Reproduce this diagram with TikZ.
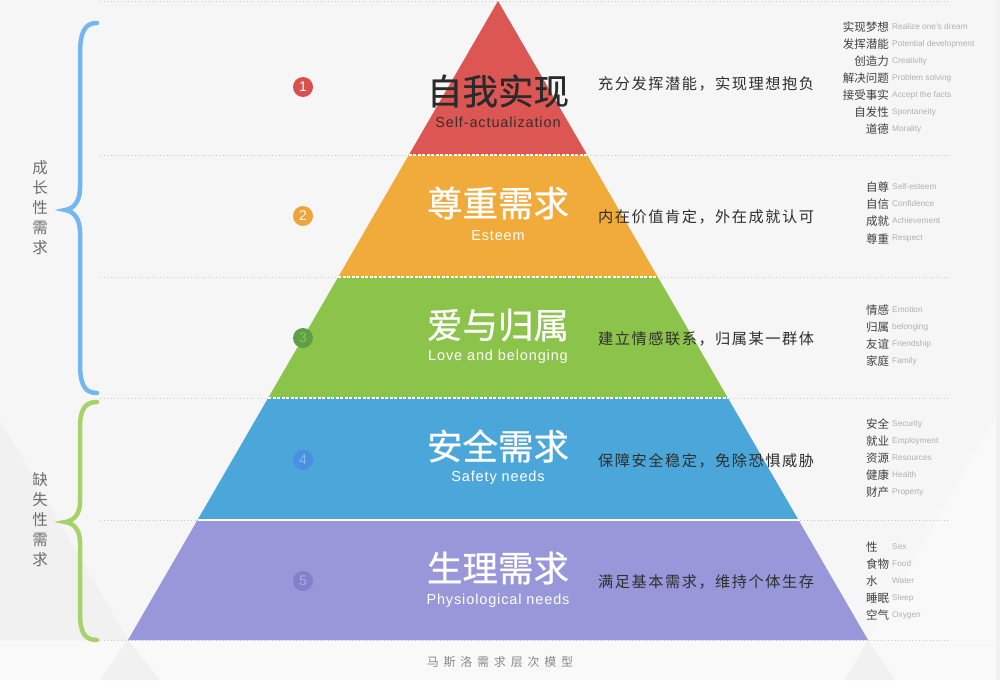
\documentclass[tikz,border=0pt]{standalone}
\usepackage{fontspec}
\setmainfont{Liberation Sans}
\newfontfamily\cjk{Noto Sans CJK SC}
\newfontfamily\cjktitle[FakeBold=0.6]{Noto Sans CJK SC}
\newfontfamily\cjkdesc[LetterSpace=10]{Noto Sans CJK SC}
\newfontfamily\cjkcap[LetterSpace=40]{Noto Sans CJK SC}
\newfontfamily\enspaced[LetterSpace=6]{Liberation Sans}
\usetikzlibrary{calc}
\definecolor{bgc}{HTML}{F6F6F6}
\definecolor{bgdark}{HTML}{F1F1F1}
\definecolor{bglight}{HTML}{F9F9F9}
\definecolor{cred}{HTML}{DC5753}
\definecolor{corange}{HTML}{F0AB3B}
\definecolor{cgreen}{HTML}{8CC34B}
\definecolor{cblue}{HTML}{4BA7D9}
\definecolor{cpurple}{HTML}{9797D9}
\definecolor{nred}{HTML}{D9504C}
\definecolor{norange}{HTML}{EFA43A}
\definecolor{ngreen}{HTML}{5E9E47}
\definecolor{nblue}{HTML}{4A90E2}
\definecolor{npurple}{HTML}{8282CC}
\definecolor{braceblue}{HTML}{74B7F0}
\definecolor{bracegreen}{HTML}{A8D169}
\definecolor{dotgray}{HTML}{C8C8C8}
\definecolor{dark}{HTML}{2A2A2A}
\definecolor{darken}{HTML}{3A2E2E}
\definecolor{desc}{HTML}{2E2E2E}
\definecolor{term}{HTML}{404040}
\definecolor{eng}{HTML}{B0B0B0}
\definecolor{sidegray}{HTML}{6E6E6E}
\definecolor{capgray}{HTML}{8A8A8A}
\tikzset{
  sepline/.style={dotgray, line width=0.8pt, dash pattern=on 1pt off 2.5pt},
  innersep/.style={white, line width=2pt, dash pattern=on 3pt off 1.5pt},
  titlecn/.style={font=\cjktitle\fontsize{35.5}{35.5}\selectfont, inner sep=0pt},
  titleen/.style={font=\enspaced\fontsize{14.5}{14.5}\selectfont, inner sep=0pt},
  descr/.style={font=\cjkdesc\fontsize{15.2}{15.2}\selectfont, text=desc, anchor=west, inner sep=0pt},
  termcn/.style={font=\cjk\fontsize{11.5}{11.5}\selectfont, text=term, inner sep=0pt},
  termen/.style={font=\fontsize{8.3}{8.3}\selectfont, text=eng, anchor=west, inner sep=0pt},
  numc/.style={circle, minimum size=20pt, inner sep=0pt, font=\fontsize{14}{14}\selectfont},
  bracepath/.style={line width=4.5pt, line cap=round},
  sidelab/.style={font=\cjk\fontsize{15.5}{20}\selectfont, text=sidegray, align=center, inner sep=0pt},
}
\begin{document}
\begin{tikzpicture}[x=1pt,y=-1pt]
% background
\fill[bgc] (0,0) rectangle (1000,680);
\useasboundingbox (0,0) rectangle (1000,680);
\fill[bgdark] (0,420) -- (128,640) -- (0,640) -- cycle;
\fill[bglight] (868,640) -- (1000,410) -- (1000,640) -- cycle;
\fill[bglight] (0,641) rectangle (1000,680);
\fill[bgdark] (128,640) -- (100,680) -- (160,680) -- cycle;
\fill[bgdark] (868,640) -- (845,680) -- (895,680) -- cycle;
\fill[bgdark] (996,0) rectangle (1000,680);

% pyramid coordinates
\coordinate (A) at (498,1);
\coordinate (L1) at (408.8,155); \coordinate (R1) at (587.2,155);
\coordinate (L2) at (338.2,277); \coordinate (R2) at (657.8,277);
\coordinate (L3) at (268.1,398); \coordinate (R3) at (727.9,398);
\coordinate (L4) at (197.5,520); \coordinate (R4) at (798.5,520);
\coordinate (L5) at (128,640);   \coordinate (R5) at (868,640);

% dotted guide lines
\foreach \yy in {1,155,277,398,520,640}
  \draw[sepline] (100,\yy) -- (950,\yy);

% layers
\fill[cred] (A) -- (R1) -- (L1) -- cycle;
\fill[corange] (L1) -- (R1) -- (R2) -- (L2) -- cycle;
\fill[cgreen] (L2) -- (R2) -- (R3) -- (L3) -- cycle;
\fill[cblue] (L3) -- (R3) -- (R4) -- (L4) -- cycle;
\fill[cpurple] (L4) -- (R4) -- (R5) -- (L5) -- cycle;

% white separators inside pyramid
\draw[innersep] (L1) -- (R1);
\draw[innersep] (L2) -- (R2);
\draw[innersep] (L3) -- (R3);
\draw[white, line width=2.5pt] (L4) -- (R4);

% titles
\node[titlecn, text=dark] (t1) at (498,91) {自我实现};
\node[titleen, text=darken] (e1) at (498,122) {Self-actualization};
\node[titlecn, text=white] (t2) at (498,203) {尊重需求};
\node[titleen, text=white] (e2) at (498,236) {Esteem};
\node[titlecn, text=white] (t3) at (498,325) {爱与归属};
\node[titleen, text=white] (e3) at (498,357) {Love and belonging};
\node[titlecn, text=white] (t4) at (498,446) {安全需求};
\node[titleen, text=white] (e4) at (498,478) {Safety needs};
\node[titlecn, text=white] (t5) at (498,568) {生理需求};
\node[titleen, text=white] (e5) at (498,601) {Physiological needs};

% number circles
\node[numc, fill=nred, text=white] (n1) at (303,87) {1};
\node[numc, fill=norange, text=white] (n2) at (303,216) {2};
\node[numc, fill=ngreen, text=cgreen] (n3) at (303,338) {3};
\node[numc, fill=nblue, text=cblue!70!white] (n4) at (303,460) {4};
\node[numc, fill=npurple, text=cpurple!80!white] (n5) at (303,581) {5};

% descriptions
\node[descr] (d1) at (598,84) {充分发挥潜能，实现理想抱负};
\node[descr] (d2) at (598,217) {内在价值肯定，外在成就认可};
\node[descr] (d3) at (598,339) {建立情感联系，归属某一群体};
\node[descr] (d4) at (598,461) {保障安全稳定，免除恐惧威胁};
\node[descr] (d5) at (598,582) {满足基本需求，维持个体生存};

% right column group 1
\node[termcn, anchor=east] (a1) at (889,27) {实现梦想};
\node[termen] (b1) at (892,27) {Realize one's dream};
\node[termcn, anchor=east] (a2) at (889,44) {发挥潜能};
\node[termen] (b2) at (892,44) {Potential development};
\node[termcn, anchor=east] (a3) at (889,61) {创造力};
\node[termen] (b3) at (892,61) {Creativity};
\node[termcn, anchor=east] (a4) at (889,78) {解决问题};
\node[termen] (b4) at (892,78) {Problem solving};
\node[termcn, anchor=east] (a5) at (889,95) {接受事实};
\node[termen] (b5) at (892,95) {Accept the facts};
\node[termcn, anchor=east] (a6) at (889,112) {自发性};
\node[termen] (b6) at (892,112) {Spontaneity};
\node[termcn, anchor=east] (a7) at (889,129) {道德};
\node[termen] (b7) at (892,129) {Morality};

% group 2
\node[termcn, anchor=west] (c1) at (866,187) {自尊};
\node[termen] (f1) at (892,187) {Self-esteem};
\node[termcn, anchor=west] (c2) at (866,204) {自信};
\node[termen] (f2) at (892,204) {Confidence};
\node[termcn, anchor=west] (c3) at (866,221) {成就};
\node[termen] (f3) at (892,221) {Achievement};
\node[termcn, anchor=west] (c4) at (866,239) {尊重};
\node[termen] (f4) at (892,239) {Respect};

% group 3
\node[termcn, anchor=west] (g1) at (866,310) {情感};
\node[termen] (h1) at (892,310) {Emotion};
\node[termcn, anchor=west] (g2) at (866,327) {归属};
\node[termen] (h2) at (892,327) {belonging};
\node[termcn, anchor=west] (g3) at (866,344) {友谊};
\node[termen] (h3) at (892,344) {Friendship};
\node[termcn, anchor=west] (g4) at (866,361) {家庭};
\node[termen] (h4) at (892,361) {Family};

% group 4
\node[termcn, anchor=west] (i1) at (866,424) {安全};
\node[termen] (j1) at (892,424) {Security};
\node[termcn, anchor=west] (i2) at (866,441) {就业};
\node[termen] (j2) at (892,441) {Employment};
\node[termcn, anchor=west] (i3) at (866,458) {资源};
\node[termen] (j3) at (892,458) {Resources};
\node[termcn, anchor=west] (i4) at (866,475) {健康};
\node[termen] (j4) at (892,475) {Health};
\node[termcn, anchor=west] (i5) at (866,492) {财产};
\node[termen] (j5) at (892,492) {Property};

% group 5
\node[termcn, anchor=west] (k1) at (866,547) {性};
\node[termen] (m1) at (892,547) {Sex};
\node[termcn, anchor=west] (k2) at (866,564) {食物};
\node[termen] (m2) at (892,564) {Food};
\node[termcn, anchor=west] (k3) at (866,581) {水};
\node[termen] (m3) at (892,581) {Water};
\node[termcn, anchor=west] (k4) at (866,598) {睡眠};
\node[termen] (m4) at (892,598) {Sleep};
\node[termcn, anchor=west] (k5) at (866,615) {空气};
\node[termen] (m5) at (892,615) {Oxygen};

% braces
\draw[bracepath, braceblue] (97,23) .. controls (84,23) and (80,33) .. (80,55)
  -- (80,188) .. controls (80,202) and (73,209) .. (65,210)
  .. controls (73,211) and (80,218) .. (80,232)
  -- (80,362) .. controls (80,384) and (84,393) .. (97,393);
\draw[bracepath, bracegreen] (97,402) .. controls (84,402) and (80,411) .. (80,428)
  -- (80,502) .. controls (80,515) and (73,521) .. (65,522)
  .. controls (73,523) and (80,529) .. (80,542)
  -- (80,612) .. controls (80,632) and (84,640) .. (97,640);

% side labels
\node[sidelab] (s1) at (40,208) {成\\长\\性\\需\\求};
\node[sidelab] (s2) at (40,520) {缺\\失\\性\\需\\求};

% caption
\node[font=\cjkcap\fontsize{12}{12}\selectfont, text=capgray, inner sep=0pt] (cap) at (500,662) {马斯洛需求层次模型};
\end{tikzpicture}
\end{document}
